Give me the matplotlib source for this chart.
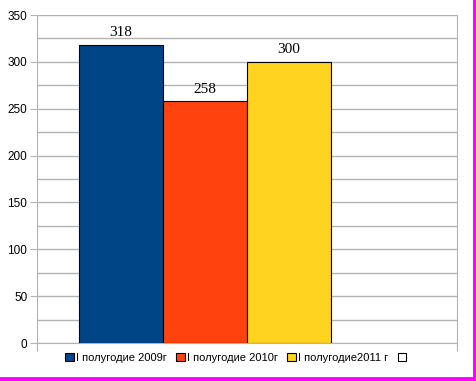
import numpy as np
import matplotlib
matplotlib.use("Agg")
import matplotlib.pyplot as plt
from matplotlib.patches import Patch
from matplotlib.lines import Line2D

# series of the single category (fourth series is empty)
series = ["I полугодие 2009г", "I полугодие 2010г", "I полугодие2011 г", ""]
values = [318, 258, 300, np.nan]
colors = ["#004586", "#ff420e", "#ffd320", "#ffffff"]

plt.rcParams['font.family'] = ['Liberation Sans', 'DejaVu Sans']

fig = plt.figure(figsize=(4.77, 3.81), dpi=100)
ax = fig.add_axes([37/477, 38/381, 420/477, 328/381])

w = 0.2
offsets = (np.arange(len(series)) - 1.5) * w
for off, v, c in zip(offsets, values, colors):
    if np.isnan(v):
        continue
    ax.bar(off, v, width=w, color=c, edgecolor="black", linewidth=0.8, zorder=3)
    ax.text(off, v + 6, str(v), ha="center", va="bottom",
            family=["Liberation Serif", "DejaVu Serif"], fontsize=11, zorder=4)

ax.set_xlim(-0.5, 0.5)
ax.set_ylim(0, 350)
ax.set_yticks(np.arange(0, 351, 50))
ax.set_yticks(np.arange(25, 350, 50), minor=True)
ax.set_xticks([-0.5, 0.5])
ax.set_xticklabels([])
ax.grid(axis="y", which="both", color="#b3b3b3", linewidth=1, zorder=0)
ax.tick_params(axis="y", which="major", length=5, color="#b3b3b3", labelsize=8.5, pad=2)
ax.tick_params(axis="y", which="minor", length=0)
ax.tick_params(axis="x", length=6, color="#b3b3b3")
for s in ["left", "right", "bottom"]:
    ax.spines[s].set_color("#b3b3b3")
ax.spines["top"].set_visible(False)

handles = [Patch(facecolor=c, edgecolor="black", linewidth=0.8) for c in colors]
fig.legend(handles, series, loc="center", bbox_to_anchor=(237/477, 1 - 358/381),
           ncol=4, frameon=False, fontsize=8, handlelength=0.8, handleheight=0.8,
           handletextpad=0.2, columnspacing=0.8)

# magenta frame on the right and bottom edges
fig.add_artist(Line2D([475/477, 475/477], [0, 1], color="#ff00ff", linewidth=2.8,
                      transform=fig.transFigure))
fig.add_artist(Line2D([0, 1], [2.5/381, 2.5/381], color="#ff00ff", linewidth=2.8,
                      transform=fig.transFigure))

fig.savefig("out.png", dpi=100)
